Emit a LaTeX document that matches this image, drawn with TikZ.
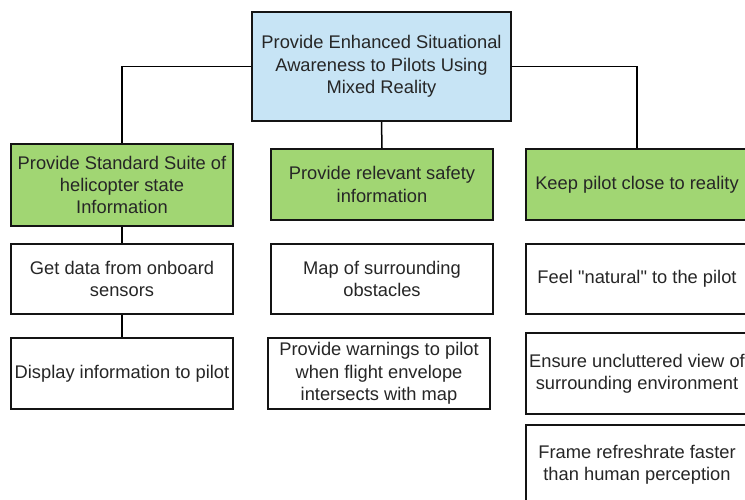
\documentclass[tikz,border=0pt]{standalone}
\usepackage{fontspec}
\newfontfamily\boxfont{Liberation Sans}
\definecolor{topblue}{RGB}{199,228,245}
\definecolor{boxgreen}{RGB}{161,214,115}
\definecolor{edge}{RGB}{20,20,20}
\begin{document}
\begin{tikzpicture}[x=1pt,y=-1pt,
  box/.style={draw=edge,line width=1.8pt,rectangle,align=center,inner sep=0pt,
    font=\boxfont\fontsize{18.3}{22.3}\selectfont,text=black!85},
  link/.style={draw=black,line width=1.5pt}]
\clip (0,0) rectangle (745,499);
\fill[white] (0,0) rectangle (745,499);
\node[box,fill=topblue,minimum width=259pt,minimum height=109pt] (top) at (381.5,66.5)
  {Provide Enhanced Situational\\Awareness to Pilots Using\\Mixed Reality};
\node[box,fill=boxgreen,minimum width=222pt,minimum height=82pt] (lg) at (122,185)
  {Provide Standard Suite of\\helicopter state\\Information};
\node[box,fill=boxgreen,minimum width=222pt,minimum height=71pt] (mg) at (382,184.5)
  {Provide relevant safety\\information};
\node[box,fill=boxgreen,minimum width=222pt,minimum height=71pt] (rg) at (637,184.5)
  {Keep pilot close to reality};
\node[box,fill=white,minimum width=222pt,minimum height=70pt] (gd) at (122,279)
  {Get data from onboard\\sensors};
\node[box,fill=white,minimum width=222pt,minimum height=71pt] (di) at (122,373.5)
  {Display information to pilot};
\node[box,fill=white,minimum width=222pt,minimum height=70pt] (mo) at (382,279)
  {Map of surrounding\\obstacles};
\node[box,fill=white,minimum width=222pt,minimum height=71pt] (wa) at (379,373.5)
  {Provide warnings to pilot\\when flight envelope\\intersects with map};
\node[box,fill=white,minimum width=222pt,minimum height=70pt] (fe) at (637,279)
  {Feel "natural" to the pilot};
\node[box,fill=white,minimum width=222pt,minimum height=81pt] (en) at (637,373.5)
  {Ensure uncluttered view of\\surrounding environment};
\node[box,fill=white,minimum width=222pt,minimum height=80pt] (fr) at (637,465)
  {Frame refreshrate faster\\than human perception};
\draw[link] (top.west) -| (lg.north);
\draw[link] (top.east) -| (rg.north);
\draw[link] (top.south) -- (mg.north);
\draw[link] (lg.south) -- (gd.north);
\draw[link] (gd.south) -- (di.north);
\end{tikzpicture}
\end{document}
